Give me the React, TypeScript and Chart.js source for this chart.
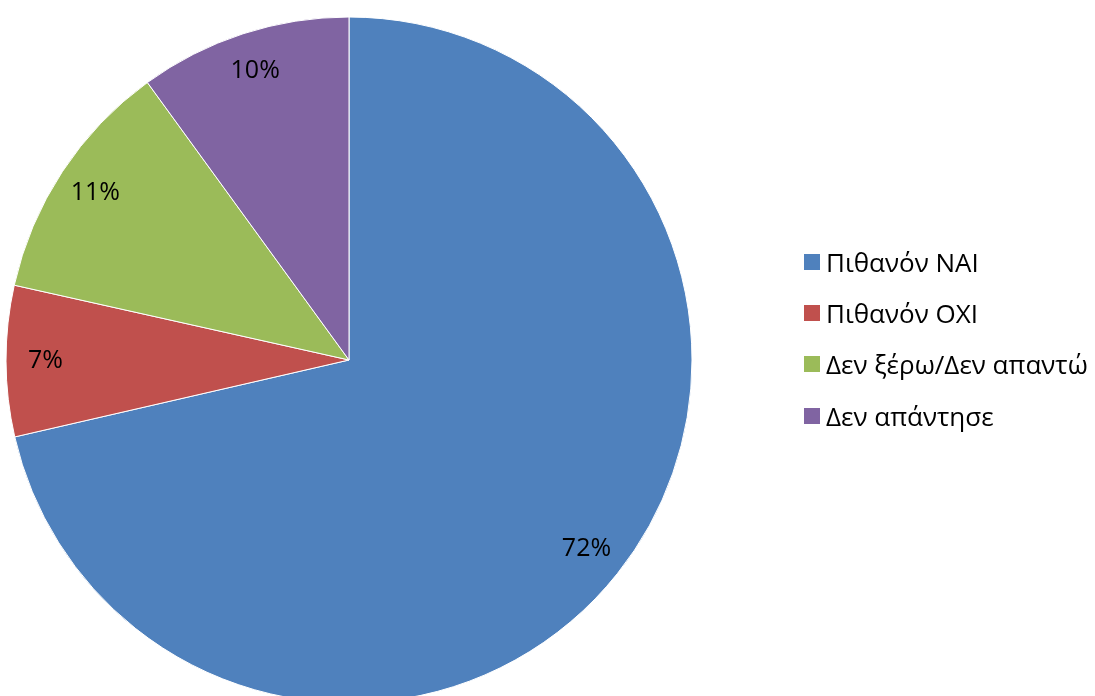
import React, { useEffect, useRef } from "react";
import { Chart, registerables } from "chart.js";

Chart.register(...registerables);

const categories = ["Πιθανόν ΝΑΙ", "Πιθανόν ΟΧΙ", "Δεν ξέρω/Δεν απαντώ", "Δεν απάντησε"];
const values = [71.4, 7.1, 11.5, 10.0];
const valueLabels = ["72%", "7%", "11%", "10%"];
const colors = ["#4F81BD", "#C0504D", "#9BBB59", "#8064A2"];

const FONT = "'Open Sans', 'Noto Sans', sans-serif";

const labelPlugin = {
  id: "sliceLabels",
  afterDatasetsDraw(chart: any) {
    const ctx = chart.ctx;
    const meta = chart.getDatasetMeta(0);
    ctx.save();
    ctx.font = `25px ${FONT}`;
    ctx.fillStyle = "#000";
    ctx.textAlign = "center";
    ctx.textBaseline = "middle";
    meta.data.forEach((arc: any, i: number) => {
      const p = arc.getProps(["x", "y", "startAngle", "endAngle", "outerRadius"], true);
      const mid = (p.startAngle + p.endAngle) / 2;
      const r = p.outerRadius * 0.885;
      ctx.fillText(valueLabels[i], p.x + Math.cos(mid) * r, p.y + Math.sin(mid) * r);
    });
    ctx.restore();
  },
};

export default function App() {
  const ref = useRef<HTMLCanvasElement | null>(null);
  useEffect(() => {
    if (!ref.current) return;
    const chart = new Chart(ref.current, {
      type: "pie",
      data: {
        labels: categories,
        datasets: [
          {
            data: values,
            backgroundColor: colors,
            borderColor: "#ffffff",
            borderWidth: 1,
            radius: 343,
            clip: false as any,
          } as any,
        ],
      },
      options: {
        animation: false,
        responsive: false,
        maintainAspectRatio: false,
        layout: { padding: { left: 0, right: 397, top: 24, bottom: 0 } },
        plugins: { legend: { display: false }, tooltip: { enabled: false } },
      },
      plugins: [labelPlugin],
    });
    return () => chart.destroy();
  }, []);

  return (
    <div style={{ position: "fixed", left: 0, top: 0, width: 1095, height: 696, background: "#fff", overflow: "hidden" }}>
      <canvas ref={ref} width={1095} height={696} style={{ position: "absolute", left: 0, top: 0, width: 1095, height: 696 }} />
      <div style={{ position: "absolute", left: 804, top: 236, fontFamily: FONT, fontSize: 26, color: "#000" }}>
        {categories.map((c, i) => (
          <div key={c} style={{ display: "flex", alignItems: "center", height: 51.3, whiteSpace: "nowrap" }}>
            <span style={{ display: "inline-block", width: 16, height: 16, background: colors[i], marginRight: 6 }} />
            <span>{c}</span>
          </div>
        ))}
      </div>
    </div>
  );
}
